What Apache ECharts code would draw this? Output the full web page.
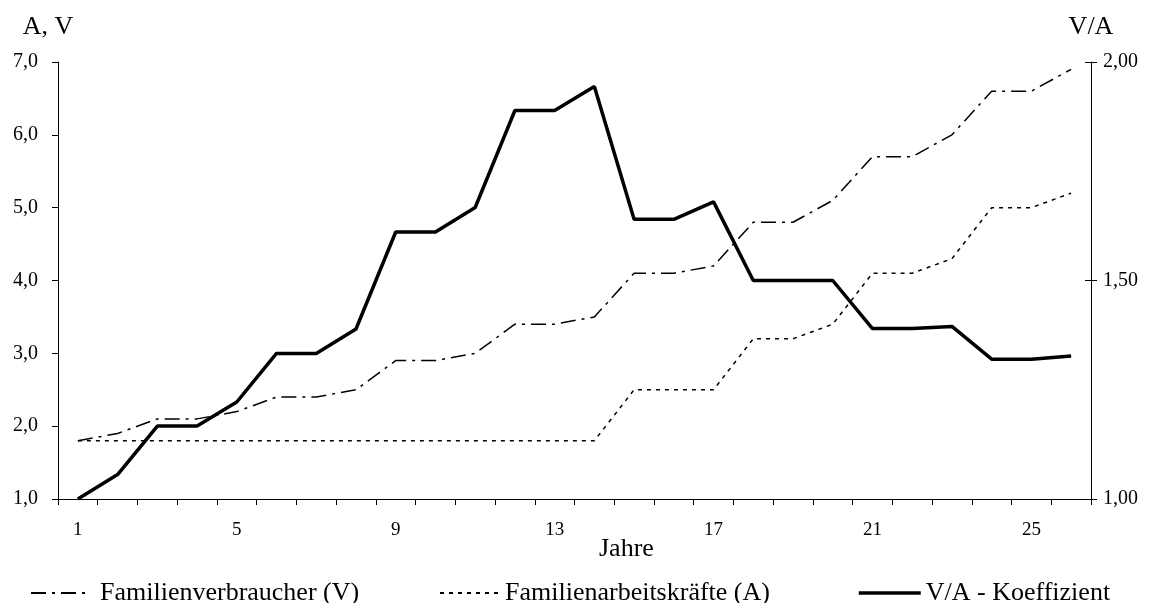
<!DOCTYPE html>
<html>
<head>
<meta charset="utf-8">
<script src="https://cdn.jsdelivr.net/npm/echarts@6/dist/echarts.min.js"></script>
<style>
  html, body { margin: 0; padding: 0; background: #fff; }
  #chart { width: 1157px; height: 603px; }
</style>
</head>
<body>
<div id="chart"></div>
<script>
// Jahre 1..26
const years = Array.from({ length: 26 }, (_, i) => String(i + 1))

// Familienverbraucher (V)
const verbraucher = [1.8, 1.9, 2.1, 2.1, 2.2, 2.4, 2.4, 2.5, 2.9, 2.9, 3.0, 3.4, 3.4,
  3.5, 4.1, 4.1, 4.2, 4.8, 4.8, 5.1, 5.7, 5.7, 6.0, 6.6, 6.6, 6.9]

// Familienarbeitskräfte (A)
const arbeitskraefte = [1.8, 1.8, 1.8, 1.8, 1.8, 1.8, 1.8, 1.8, 1.8, 1.8, 1.8, 1.8, 1.8,
  1.8, 2.5, 2.5, 2.5, 3.2, 3.2, 3.4, 4.1, 4.1, 4.3, 5.0, 5.0, 5.2]

// V/A - Koeffizient (rechte Achse)
const koeffizient = [1.0, 1.056, 1.167, 1.167, 1.222, 1.333, 1.333, 1.389, 1.611, 1.611,
  1.667, 1.889, 1.889, 1.944, 1.64, 1.64, 1.68, 1.5, 1.5, 1.5, 1.39, 1.39, 1.395, 1.32,
  1.32, 1.327]

const FONT = '"Liberation Serif", "DejaVu Serif", serif'
const comma = (d) => (v) => v.toFixed(d).replace('.', ',')

const chart = echarts.init(document.getElementById('chart'))

const legendBase = {
  top: 575,
  itemWidth: 60,
  itemHeight: 14,
  itemStyle: { opacity: 0 },
}
const legendText = { fontFamily: FONT, fontSize: 26, color: '#000' }

chart.setOption({
  animation: false,
  grid: { left: 58, right: 66, top: 62, bottom: 104 },
  legend: [
    Object.assign({}, legendBase, {
      data: ['Familienverbraucher (V)'],
      left: 25,
      textStyle: Object.assign({ padding: [0, 0, 0, 4] }, legendText),
    }),
    Object.assign({}, legendBase, {
      data: ['Familienarbeitskräfte (A)'],
      left: 434,
      textStyle: legendText,
    }),
    Object.assign({}, legendBase, {
      data: ['V/A - Koeffizient'],
      left: 852,
      itemWidth: 62,
      lineStyle: { width: 3.5 },
      textStyle: legendText,
    }),
  ],
  graphic: [
    {
      type: 'text',
      left: 599, top: 536,
      style: { text: 'Jahre', font: '26px ' + FONT, fill: '#000' },
    },
  ],
  xAxis: {
    type: 'category',
    data: years,
    boundaryGap: true,
    axisLine: { lineStyle: { color: '#000', width: 1 } },
    axisTick: { show: true, length: 6, lineStyle: { color: '#000' }, interval: 0 },
    axisLabel: { interval: 3, margin: 22, color: '#000', fontFamily: FONT, fontSize: 19 },
    splitLine: { show: false },
  },
  yAxis: [
    {
      type: 'value',
      min: 1, max: 7, interval: 1,
      name: 'A, V',
      nameGap: 22,
      nameTextStyle: { fontFamily: FONT, fontSize: 26, color: '#000', padding: [0, 20, 0, 0] },
      axisLine: { show: true, lineStyle: { color: '#000', width: 1 } },
      axisTick: { show: true, length: 6, lineStyle: { color: '#000' } },
      axisLabel: { formatter: comma(1), margin: 20, color: '#000', fontFamily: FONT, fontSize: 20 },
      splitLine: { show: false },
    },
    {
      type: 'value',
      position: 'right',
      min: 1, max: 2, interval: 0.5,
      name: 'V/A',
      nameGap: 22,
      nameTextStyle: { fontFamily: FONT, fontSize: 26, color: '#000' },
      axisLine: { show: true, lineStyle: { color: '#000', width: 1 } },
      axisTick: { show: true, length: 6, lineStyle: { color: '#000' } },
      axisLabel: { formatter: comma(2), margin: 12, color: '#000', fontFamily: FONT, fontSize: 20 },
      splitLine: { show: false },
    },
    {
      // inner half of the crossing ticks on the right axis
      type: 'value',
      position: 'right',
      min: 1, max: 2, interval: 0.5,
      axisLine: { show: false },
      axisTick: { show: true, inside: true, length: 6, lineStyle: { color: '#000' } },
      axisLabel: { show: false },
      splitLine: { show: false },
    },
  ],
  series: [
    {
      name: 'Familienverbraucher (V)',
      type: 'line',
      data: verbraucher,
      symbol: 'none',
      lineStyle: { color: '#000', width: 1.5, type: [15, 6, 3, 6] },
      itemStyle: { color: '#000' },
    },
    {
      name: 'Familienarbeitskräfte (A)',
      type: 'line',
      data: arbeitskraefte,
      symbol: 'none',
      lineStyle: { color: '#000', width: 1.5, type: [4, 5] },
      itemStyle: { color: '#000' },
    },
    {
      name: 'V/A - Koeffizient',
      type: 'line',
      yAxisIndex: 1,
      data: koeffizient,
      symbol: 'none',
      lineStyle: { color: '#000', width: 3.5 },
      itemStyle: { color: '#000' },
      z: 3,
    },
  ],
})
</script>
</body>
</html>
